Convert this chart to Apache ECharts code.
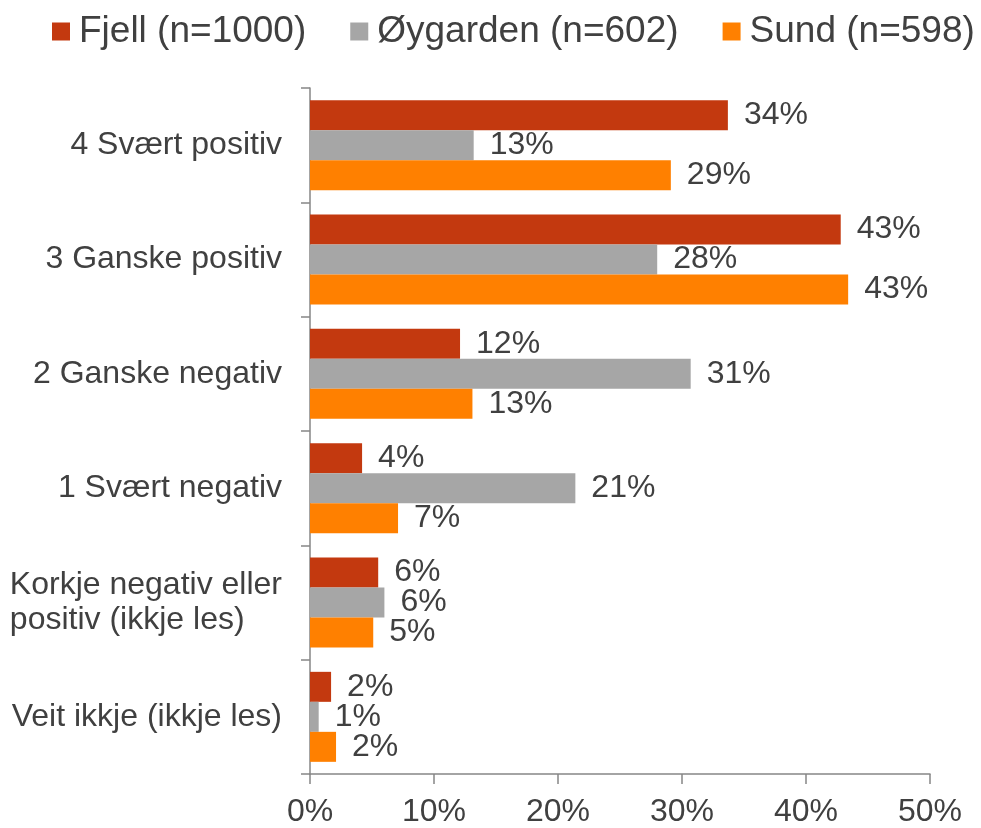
<!DOCTYPE html>
<html>
<head>
<meta charset="utf-8">
<script src="https://cdn.jsdelivr.net/npm/echarts@6/dist/echarts.min.js"></script>
<style>
  html, body { margin: 0; padding: 0; background: #fff; }
  #chart { width: 981px; height: 828px; }
</style>
</head>
<body>
<div id="chart"></div>
<script>
// categories, top to bottom
const categories = [
  '4 Svært positiv',
  '3 Ganske positiv',
  '2 Ganske negativ',
  '1 Svært negativ',
  'Korkje negativ eller\npositiv (ikkje les)',
  'Veit ikkje (ikkje les)'
];

const fjell     = [33.7, 42.8, 12.1, 4.2, 5.5, 1.7];
const oygarden  = [13.2, 28.0, 30.7, 21.4, 6.0, 0.7];
const sund      = [29.1, 43.4, 13.1, 7.1, 5.1, 2.1];

const seriesNames = ['Fjell (n=1000)', 'Øygarden (n=602)', 'Sund (n=598)'];
const colors = ['#C3390F', '#A6A6A6', '#FF8000'];
const xTicks = [0, 10, 20, 30, 40, 50];

const FONT = 'Liberation Sans, Arial, sans-serif';
const TEXT = '#404040';

const chart = echarts.init(document.getElementById('chart'));

function barSeries(name, data, color) {
  return {
    name,
    type: 'bar',
    data,
    barWidth: 30,
    barGap: '0%',
    itemStyle: { color },
    label: {
      show: true,
      position: 'right',
      distance: 16,
      color: TEXT,
      fontFamily: FONT,
      fontSize: 32,
      formatter: p => Math.round(p.value) + '%',
    },
  };
}

chart.setOption({
  animation: false,
  legend: {
    top: 8,
    left: 47,
    itemWidth: 18,
    itemHeight: 18,
    itemGap: 44,
    icon: 'rect',
    textStyle: {
      fontFamily: FONT,
      fontSize: 37,
      color: TEXT,
      padding: [0, 0, 0, 4],
    },
    data: seriesNames,
  },
  grid: { left: 310, right: 51, top: 88, bottom: 53 },
  xAxis: {
    type: 'value',
    min: xTicks[0],
    max: xTicks[xTicks.length - 1],
    interval: 10,
    axisLine: { show: true, lineStyle: { color: '#868686', width: 1.5 } },
    axisTick: { show: true, length: 10, lineStyle: { color: '#868686', width: 1.5 } },
    splitLine: { show: false },
    axisLabel: {
      margin: 22,
      color: TEXT,
      fontFamily: FONT,
      fontSize: 32,
      formatter: '{value}%',
    },
  },
  yAxis: {
    type: 'category',
    inverse: true,
    data: categories,
    axisLine: { show: true, lineStyle: { color: '#868686', width: 1.5 } },
    axisTick: { show: true, length: 9, lineStyle: { color: '#868686', width: 1.5 } },
    axisLabel: {
      margin: 28,
      color: TEXT,
      fontFamily: FONT,
      fontSize: 32,
      lineHeight: 35,
      formatter: v => v.indexOf('\n') >= 0
        ? v.split('\n').map(s => '{l|' + s + '}').join('\n')
        : v,
      rich: {
        l: { align: 'left', fontFamily: FONT, fontSize: 32, color: TEXT, lineHeight: 35 },
      },
    },
  },
  series: [
    barSeries(seriesNames[0], fjell, colors[0]),
    barSeries(seriesNames[1], oygarden, colors[1]),
    barSeries(seriesNames[2], sund, colors[2]),
  ],
});

window.addEventListener('resize', () => chart.resize());
</script>
</body>
</html>
